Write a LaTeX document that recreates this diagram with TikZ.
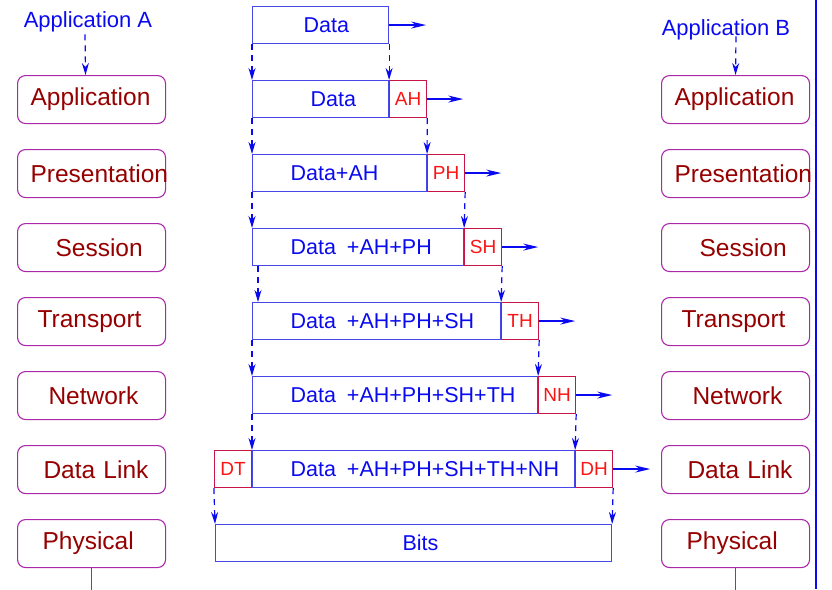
\documentclass[tikz,border=0pt]{standalone}
\usepackage{fontspec}
\setmainfont{Liberation Sans}
\usetikzlibrary{arrows.meta}
\definecolor{layerframe}{RGB}{170,40,170}
\definecolor{layertext}{RGB}{150,0,0}
\definecolor{pdublue}{RGB}{10,10,240}
\definecolor{pduframe}{RGB}{70,70,235}
\definecolor{hdrred}{RGB}{250,20,20}
\definecolor{hdrframe}{RGB}{200,20,70}
\tikzset{
  layer/.style={draw=layerframe, rounded corners=8pt, line width=1.1pt, text=layertext,
    anchor=north west, minimum height=48pt, text width=122pt, inner xsep=13pt, inner ysep=0pt,
    align=left, font=\fontsize{24.5}{28}\selectfont},
  pdu/.style={draw=pduframe, line width=1.1pt, text=pdublue, anchor=north west,
    minimum height=37pt, inner sep=0pt, align=left, font=\fontsize{21.5}{25}\selectfont},
  hdr/.style={draw=hdrframe, line width=1.1pt, text=hdrred, anchor=north west,
    minimum width=37pt, minimum height=37pt, inner sep=0pt, font=\fontsize{19}{22}\selectfont},
  app/.style={text=pdublue, inner sep=0pt, font=\fontsize{22}{26}\selectfont},
  down/.style={-{Stealth[length=12pt,width=7pt]}, draw=pdublue, line width=1.2pt, dash pattern=on 6pt off 5pt},
  fwd/.style={-{Stealth[length=15pt,width=7pt]}, draw=pdublue, line width=1.2pt},
}
\begin{document}
\begin{tikzpicture}[x=1pt,y=-1pt]
  \useasboundingbox (0,0) rectangle (832,589);
  % layer stacks of both hosts
  \foreach \txt/\off [count=\i] in {Application/0pt,Presentation/0pt,Session/25pt,Transport/7pt,Network/18pt,Data Link/13pt,Physical/12pt}{
    \node[layer] (lA\i) at (17,{75+74*(\i-1)}) {\noindent\hspace*{\off}\mbox{\txt}};
    \node[layer] (lB\i) at (661,{75+74*(\i-1)}) {\noindent\hspace*{\off}\mbox{\txt}};
  }
  \node[app] (appA) at (88,22) {Application A};
  \node[app] (appB) at (726,30) {Application B};
  \draw[down] ([xshift=-3pt,yshift=-2pt]appA.south) -- ([xshift=-6pt]lA1.north);
  \draw[down] ([xshift=10pt,yshift=4pt]appB.south) -- (lB1.north);

  % data units
  \node[pdu, text width=136pt] (d0) at (252,6) {\noindent\hspace*{51pt}Data};
  \node[pdu, text width=136pt] (d1) at (252,80) {\noindent\hspace*{58pt}Data};
  \node[pdu, text width=174pt] (d2) at (252,154) {\noindent\hspace*{38pt}Data+AH};
  \node[pdu, text width=211pt] (d3) at (252,228) {\noindent\hspace*{38pt}Data\hspace{11pt}+AH+PH};
  \node[pdu, text width=248pt] (d4) at (252,302) {\noindent\hspace*{38pt}Data\hspace{11pt}+AH+PH+SH};
  \node[pdu, text width=285pt] (d5) at (252,376) {\noindent\hspace*{38pt}Data\hspace{11pt}+AH+PH+SH+TH};
  \node[pdu, text width=322pt] (d6) at (252,450) {\noindent\hspace*{38pt}Data\hspace{11pt}+AH+PH+SH+TH+NH};
  \node[pdu, text width=396pt] (bits) at (215,524) {\noindent\hspace*{187pt}Bits};

  % headers and trailer
  \node[hdr] (ah) at (d1.north east) {AH};
  \node[hdr] (ph) at (d2.north east) {PH};
  \node[hdr] (sh) at (d3.north east) {SH};
  \node[hdr] (th) at (d4.north east) {TH};
  \node[hdr] (nh) at (d5.north east) {NH};
  \node[hdr] (dh) at (d6.north east) {DH};
  \node[hdr, anchor=north east] (dt) at (d6.north west) {DT};

  % passing down
  \draw[down] (d0.south west) -- (d1.north west);
  \draw[down] (d0.south east) -- (ah.north west);
  \draw[down] (d1.south west) -- (d2.north west);
  \draw[down] (ah.south east) -- (ph.north west);
  \draw[down] (d2.south west) -- (d3.north west);
  \draw[down] (ph.south east) -- (sh.north west);
  \draw[down] ([xshift=6pt]d3.south west) -- ([xshift=6pt]d4.north west);
  \draw[down] (sh.south east) -- (th.north west);
  \draw[down] (d4.south west) -- (d5.north west);
  \draw[down] (th.south east) -- (nh.north west);
  \draw[down] (d5.south west) -- (d6.north west);
  \draw[down] (nh.south east) -- (dh.north west);
  \draw[down] (dt.south west) -- (bits.north west);
  \draw[down] (dh.south east) -- (bits.north east);

  % sideways arrows
  \draw[fwd] (d0.east) -- ++(37,0);
  \draw[fwd] (ah.east) -- ++(36,0);
  \draw[fwd] (ph.east) -- ++(36,0);
  \draw[fwd] (sh.east) -- ++(36,0);
  \draw[fwd] (th.east) -- ++(36,0);
  \draw[fwd] (nh.east) -- ++(36,0);
  \draw[fwd] (dh.east) -- ++(37,0);

  % wires
  \draw[pduframe, line width=1.2pt] (lA7.south) -- ++(0,22);
  \draw[pduframe, line width=1.2pt] (lB7.south) -- ++(0,22);
  \draw[pdublue, line width=2pt] (815.7,0) -- (815.7,589);
\end{tikzpicture}
\end{document}
